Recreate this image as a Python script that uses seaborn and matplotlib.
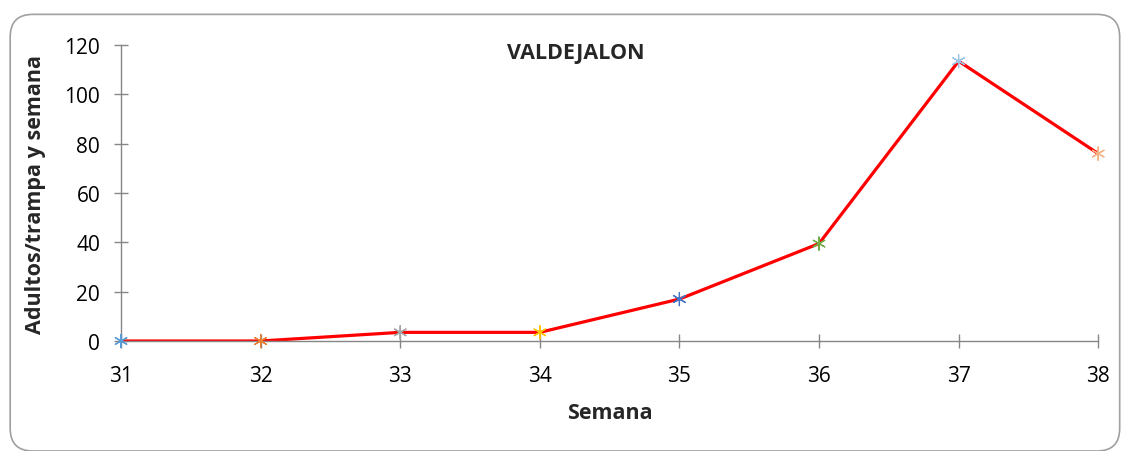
import pandas as pd
import matplotlib.pyplot as plt
import seaborn as sns
from matplotlib.patches import FancyBboxPatch

# data
semanas = [31, 32, 33, 34, 35, 36, 37, 38]
adultos = [0, 0, 3.5, 3.5, 17, 39.5, 113.5, 76]
marker_colors = ["#5B9BD5", "#ED7D31", "#A5A5A5", "#FFC000",
                 "#4472C4", "#70AD47", "#9DC3E6", "#F4B183"]

df = pd.DataFrame({"semana": semanas, "adultos": adultos})

sns.set_style("white")
plt.rcParams["font.family"] = ["Open Sans", "DejaVu Sans"]

fig = plt.figure(figsize=(11.31, 4.52), dpi=100)
ax = fig.add_axes([0.107, 0.2434, 0.864, 0.6546])

# rounded chart-area border
border = FancyBboxPatch((0.009, 0.0), 0.981, 0.966,
                        boxstyle="round,pad=0,rounding_size=0.02",
                        transform=fig.transFigure, fill=False,
                        edgecolor="#A0A0A0", linewidth=1.2, mutation_aspect=2.5)
fig.patches.append(border)

sns.lineplot(data=df, x="semana", y="adultos", ax=ax, color="red", linewidth=2.3)
sns.scatterplot(data=df, x="semana", y="adultos", hue="semana", palette=marker_colors,
                marker=(6, 2, 0), s=90, linewidth=0.9, ax=ax, legend=False, zorder=5,
                clip_on=False)

ax.set_xlim(31, 38)
ax.set_ylim(0, 120)
ax.set_xticks(semanas)
ax.set_yticks(range(0, 121, 20))

for side in ["top", "right"]:
    ax.spines[side].set_visible(False)
for side in ["left", "bottom"]:
    ax.spines[side].set_color("#868686")
    ax.spines[side].set_linewidth(1.0)

ax.tick_params(axis="both", bottom=True, left=True, direction="inout", length=10,
               width=1.0, color="#868686", labelsize=15, labelcolor="black")
ax.tick_params(axis="y", pad=10)
ax.tick_params(axis="x", pad=12)

ax.set_xlabel("Semana", fontsize=15.5, fontweight="bold", labelpad=12)
ax.set_ylabel("Adultos/trampa y semana", fontsize=15.5, fontweight="bold", labelpad=13)
ax.text(0.465, 1.01, "VALDEJALON", transform=ax.transAxes, ha="center", va="top",
        fontsize=15.5, fontweight="bold")

fig.savefig("out.png", dpi=100)
